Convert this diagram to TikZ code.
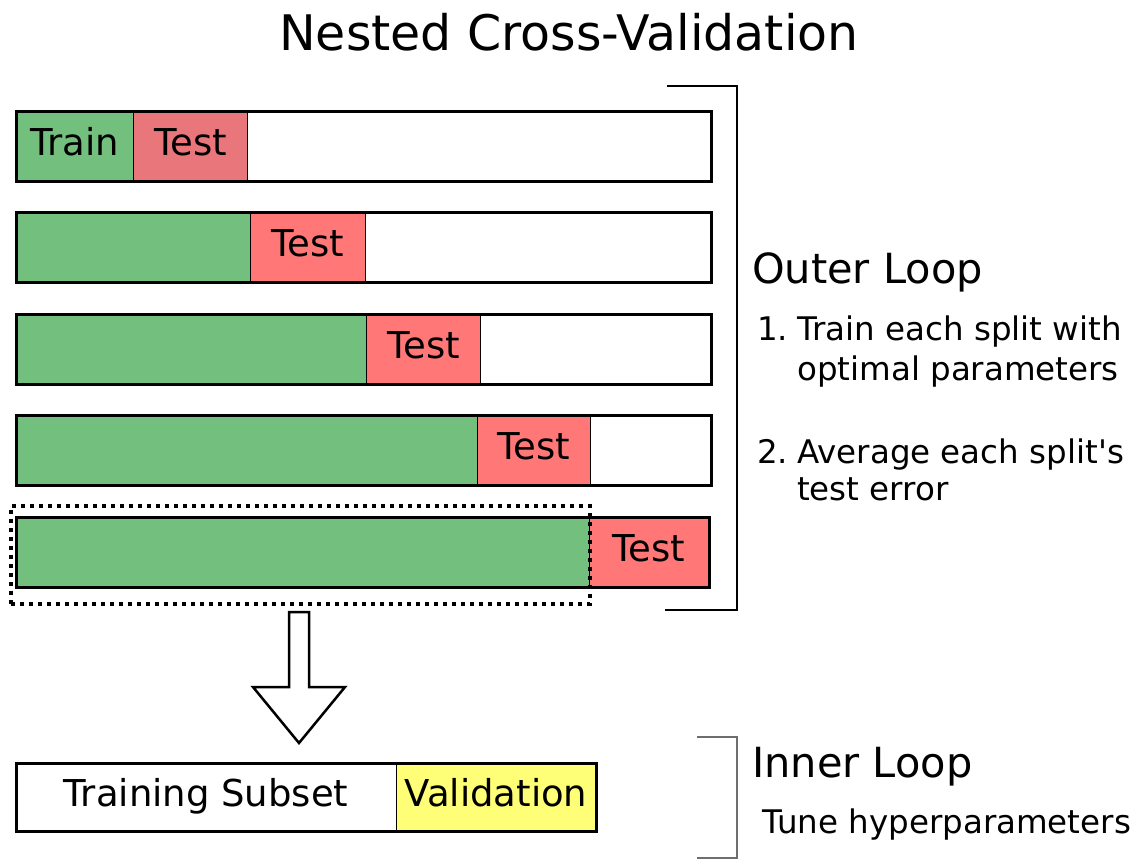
\documentclass[tikz,border=0pt]{standalone}
\usepackage{fontspec}
\setmainfont{DejaVu Sans}
\definecolor{trgreen}{RGB}{115,191,125}
\definecolor{tsred}{RGB}{255,119,119}
\definecolor{tsredA}{RGB}{233,118,122}
\definecolor{valyel}{RGB}{255,255,119}
\definecolor{brgrey}{RGB}{110,110,110}
\tikzset{
  cell/.style={anchor=north west, inner sep=0pt, minimum height=70pt, draw=black, line width=1pt, font=\fontsize{37}{42}\selectfont, text height=27pt, text depth=7pt},
  train/.style={cell, fill=trgreen},
  testc/.style={cell, fill=tsred},
  bar/.style={draw=black, line width=2.8pt},
  label/.style={anchor=base west, inner sep=0pt},
  small/.style={label, font=\fontsize{32.5}{36}\selectfont},
  big/.style={label, font=\fontsize{41.5}{46}\selectfont},
}
\begin{document}
\begin{tikzpicture}[x=1pt,y=-1pt]
\useasboundingbox (0,0) rectangle (1142,860);
% title
\node[anchor=base, inner sep=0pt, font=\fontsize{49}{54}\selectfont] (title) at (569,50) {Nested Cross-Validation};
% row 1
\node[train, minimum width=118pt] (g1) at (15,110) {Train};
\node[testc, fill=tsredA, minimum width=114pt] (t1) at (133,110) {Test};
\node[bar, anchor=north west, inner sep=0pt, minimum width=695pt, minimum height=70pt] (r1) at (15,110) {};
% row 2
\node[train, minimum width=235pt] (g2) at (15,211) {};
\node[testc, minimum width=115pt] (t2) at (250,211) {Test};
\node[bar, anchor=north west, inner sep=0pt, minimum width=695pt, minimum height=70pt] (r2) at (15,211) {};
% row 3
\node[train, minimum width=351pt] (g3) at (15,313) {};
\node[testc, minimum width=114pt] (t3) at (366,313) {Test};
\node[bar, anchor=north west, inner sep=0pt, minimum width=695pt, minimum height=70pt] (r3) at (15,313) {};
% row 4
\node[train, minimum width=462pt] (g4) at (15,414) {};
\node[testc, minimum width=113pt] (t4) at (477,414) {Test};
\node[bar, anchor=north west, inner sep=0pt, minimum width=695pt, minimum height=70pt] (r4) at (15,414) {};
% row 5
\node[train, minimum width=574pt] (g5) at (15,516) {};
\node[testc, minimum width=119pt] (t5) at (589,516) {Test};
\node[bar, anchor=north west, inner sep=0pt, minimum width=693pt, minimum height=70pt] (r5) at (15,516) {};
% dotted selection
\node[draw=black, line width=3.5pt, dash pattern=on 4pt off 5pt, anchor=north west, inner sep=0pt, minimum width=579pt, minimum height=98pt] (sel) at (9,504) {};
% outer bracket
\coordinate (ob1) at (667,86);
\coordinate (ob2) at (737,86);
\coordinate (ob3) at (737,610);
\coordinate (ob4) at (665,610);
\draw[line width=2.8pt] (ob1) -- (ob2) -- (ob3) -- (ob4);
% inner bracket
\coordinate (ib1) at (697,737);
\coordinate (ib2) at (737,737);
\coordinate (ib3) at (737,858);
\coordinate (ib4) at (697,858);
\draw[line width=1.8pt, brgrey] (ib1) -- (ib2) -- (ib3) -- (ib4);
% arrow
\draw[line width=2.5pt, fill=white, line join=miter]
  (289,612) -- (309,612) -- (309,687) -- (345,687) -- (299,743) -- (253,687) -- (289,687) -- cycle;
% inner loop bar
\node[cell, fill=white, minimum width=381pt, minimum height=68pt] (ts) at (15,762) {Training Subset};
\node[cell, fill=valyel, minimum width=199pt, minimum height=68pt] (val) at (396,762) {Validation};
\node[bar, anchor=north west, inner sep=0pt, minimum width=580pt, minimum height=68pt] (rb) at (15,762) {};
% texts
\node[big] (outer) at (752,283) {Outer Loop};
\node[small] (n1) at (757,340) {1.};
\node[small] (l1a) at (797,340) {Train each split with};
\node[small] (l1b) at (797,380) {optimal parameters};
\node[small] (n2) at (757,463) {2.};
\node[small] (l2a) at (797,463) {Average each split\textquotesingle s};
\node[small] (l2b) at (797,500) {test error};
\node[big] (inner) at (752,777) {Inner Loop};
\node[small] (tune) at (762,833) {Tune hyperparameters};
\end{tikzpicture}
\end{document}
